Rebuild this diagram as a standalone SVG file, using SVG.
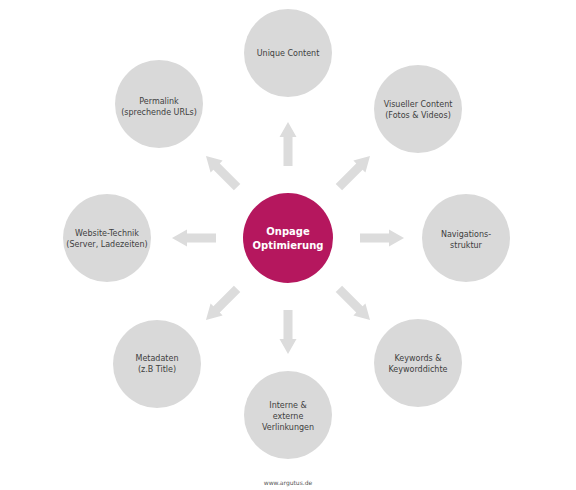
<svg xmlns="http://www.w3.org/2000/svg" xmlns:xlink="http://www.w3.org/1999/xlink" width="576" height="490" viewBox="0 0 576 490">
<style>
.bg{fill:#ffffff}
.node{fill:#d9d9d9}
.core{fill:#b5175e}
.lbl{font-family:"DejaVu Sans","Verdana",sans-serif;font-size:8px;fill:#404040;text-anchor:middle}
.clbl{font-family:"DejaVu Sans","Verdana",sans-serif;font-size:10px;font-weight:bold;fill:#ffffff;text-anchor:middle}
.arr{fill:#dcdcdc}
.foot{font-family:"DejaVu Sans","Verdana",sans-serif;font-size:6px;fill:#555555;text-anchor:middle}
</style>
<defs>
<path id="arrow" class="arr" d="M72,-4.5 L101,-4.5 L101,-8.5 L116,0 L101,8.5 L101,4.5 L72,4.5 Z"/>
</defs>
<rect class="bg" x="0" y="0" width="576" height="490"/>
<g id="connectors">
<use xlink:href="#arrow" href="#arrow" transform="translate(288,238) rotate(-90)"/>
<use xlink:href="#arrow" href="#arrow" transform="translate(288,238) rotate(-45)"/>
<use xlink:href="#arrow" href="#arrow" transform="translate(288,238) rotate(0)"/>
<use xlink:href="#arrow" href="#arrow" transform="translate(288,238) rotate(45)"/>
<use xlink:href="#arrow" href="#arrow" transform="translate(288,238) rotate(90)"/>
<use xlink:href="#arrow" href="#arrow" transform="translate(288,238) rotate(135)"/>
<use xlink:href="#arrow" href="#arrow" transform="translate(288,238) rotate(180)"/>
<use xlink:href="#arrow" href="#arrow" transform="translate(288,238) rotate(-135)"/>
</g>
<g id="center">
<circle class="core" cx="288" cy="238" r="45"/>
<text class="clbl" x="288" y="235">Onpage</text>
<text class="clbl" x="288" y="249">Optimierung</text>
</g>
<g id="unique-content">
<circle class="node" cx="288" cy="53" r="44"/>
<text class="lbl" x="288" y="56">Unique Content</text>
</g>
<g id="visueller-content">
<circle class="node" cx="418" cy="109" r="44"/>
<text class="lbl" x="418" y="107">Visueller Content</text>
<text class="lbl" x="418" y="118">(Fotos &amp; Videos)</text>
</g>
<g id="navigationsstruktur">
<circle class="node" cx="466" cy="238" r="44"/>
<text class="lbl" x="466" y="237">Navigations-</text>
<text class="lbl" x="466" y="248">struktur</text>
</g>
<g id="keywords">
<circle class="node" cx="418" cy="363" r="44"/>
<text class="lbl" x="418" y="361">Keywords &amp;</text>
<text class="lbl" x="418" y="372">Keyworddichte</text>
</g>
<g id="verlinkungen">
<circle class="node" cx="288" cy="415" r="44"/>
<text class="lbl" x="288" y="408">Interne &amp;</text>
<text class="lbl" x="288" y="419">externe</text>
<text class="lbl" x="288" y="430">Verlinkungen</text>
</g>
<g id="metadaten">
<circle class="node" cx="157" cy="364" r="44"/>
<text class="lbl" x="157" y="361">Metadaten</text>
<text class="lbl" x="157" y="372">(z.B Title)</text>
</g>
<g id="website-technik">
<circle class="node" cx="107" cy="238" r="44"/>
<text class="lbl" x="107" y="236">Website-Technik</text>
<text class="lbl" x="107" y="247">(Server, Ladezeiten)</text>
</g>
<g id="permalink">
<circle class="node" cx="159" cy="104" r="44"/>
<text class="lbl" x="159" y="104">Permalink</text>
<text class="lbl" x="159" y="115">(sprechende URLs)</text>
</g>
<text class="foot" x="288" y="485">www.argutus.de</text>
</svg>
